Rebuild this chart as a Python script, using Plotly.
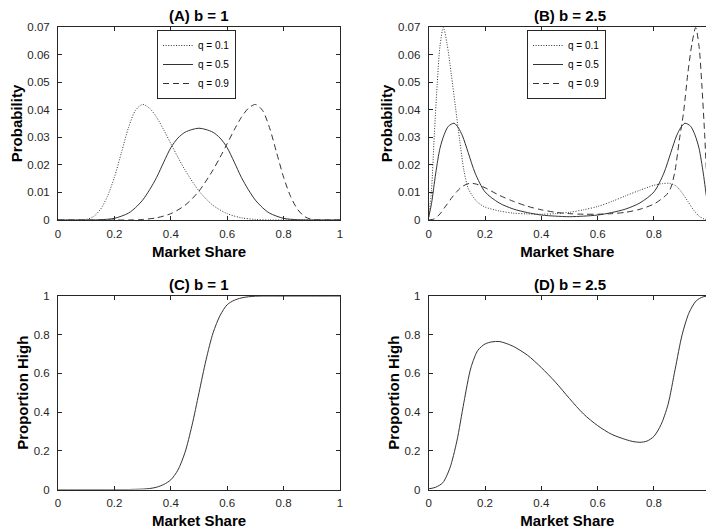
import plotly.graph_objects as go

# ---------------- data ----------------
# Panel A (b = 1): probability vs market share
a_x_q01 = [0, 0.05, 0.1, 0.125, 0.15, 0.175, 0.2, 0.225, 0.25, 0.275, 0.3, 0.325, 0.35,
           0.375, 0.4, 0.425, 0.45, 0.5, 0.55, 0.6, 0.65, 0.7, 0.75, 0.8, 0.9, 1.0]
a_y_q01 = [0, 0, 0.0002, 0.0012, 0.0038, 0.0085, 0.0155, 0.0245, 0.0335, 0.0398, 0.0419,
           0.0405, 0.0372, 0.0327, 0.0277, 0.0228, 0.0182, 0.0105, 0.0053, 0.0023, 0.0008,
           0.0002, 0, 0, 0, 0]

a_x_q05 = [0, 0.1, 0.15, 0.2, 0.25, 0.275, 0.3, 0.325, 0.35, 0.375, 0.4, 0.425, 0.45, 0.475,
           0.5, 0.525, 0.55, 0.575, 0.6, 0.625, 0.65, 0.675, 0.7, 0.725, 0.75, 0.8, 0.85, 0.9, 1.0]
a_y_q05 = [0, 0, 0.0001, 0.0006, 0.0025, 0.0045, 0.0072, 0.011, 0.0155, 0.021, 0.0262, 0.0297,
           0.0318, 0.0328, 0.0333, 0.0328, 0.0318, 0.0297, 0.0262, 0.021, 0.0155, 0.011,
           0.0072, 0.0045, 0.0025, 0.0006, 0.0001, 0, 0]

a_x_q09 = [0, 0.1, 0.2, 0.25, 0.3, 0.35, 0.4, 0.45, 0.5, 0.55, 0.575, 0.6, 0.625, 0.65, 0.675,
           0.7, 0.725, 0.75, 0.775, 0.8, 0.825, 0.85, 0.875, 0.9, 0.95, 1.0]
a_y_q09 = [0, 0, 0, 0, 0.0002, 0.0008, 0.0023, 0.0053, 0.0105, 0.0182, 0.0228, 0.0277,
           0.0327, 0.0372, 0.0405, 0.0419, 0.0398, 0.0335, 0.0245, 0.0155, 0.0085, 0.0038,
           0.0012, 0.0002, 0, 0]

# Panel B (b = 2.5)
b_x_q01 = [0, 0.01, 0.02, 0.03, 0.04, 0.052, 0.065, 0.08, 0.095, 0.11, 0.125, 0.14, 0.155,
           0.175, 0.2, 0.25, 0.3, 0.35, 0.4, 0.45, 0.5, 0.55, 0.6, 0.65, 0.7, 0.75, 0.8,
           0.83, 0.855, 0.88, 0.9, 0.92, 0.94, 0.96, 0.98, 1.0]
b_y_q01 = [0.001, 0.011, 0.031, 0.049, 0.063, 0.0698, 0.064, 0.053, 0.041, 0.029, 0.018,
           0.0115, 0.0088, 0.0063, 0.0047, 0.0033, 0.0025, 0.0022, 0.0021, 0.0023, 0.0028,
           0.0037, 0.0049, 0.0067, 0.0088, 0.0108, 0.0126, 0.0132, 0.0133, 0.0122, 0.0098,
           0.0068, 0.0037, 0.0014, 0.0003, 0.0]

b_x_q05 = [0, 0.01, 0.025, 0.04, 0.055, 0.07, 0.09, 0.105, 0.12, 0.14, 0.165, 0.2, 0.25,
           0.3, 0.35, 0.4, 0.45, 0.5, 0.55, 0.6, 0.65, 0.7, 0.75, 0.8, 0.835, 0.86, 0.88,
           0.895, 0.91, 0.93, 0.945, 0.96, 0.975, 0.99, 1.0]
b_y_q05 = [0.001, 0.006, 0.017, 0.026, 0.031, 0.034, 0.0351, 0.0335, 0.0305, 0.0245, 0.017,
           0.0102, 0.0062, 0.004, 0.0027, 0.0018, 0.0014, 0.0012, 0.0014, 0.0018, 0.0027,
           0.004, 0.0062, 0.0102, 0.017, 0.0245, 0.0305, 0.0335, 0.0351, 0.034, 0.031,
           0.026, 0.017, 0.006, 0.001]

b_x_q09 = [0, 0.02, 0.04, 0.06, 0.08, 0.1, 0.12, 0.145, 0.17, 0.2, 0.25, 0.3, 0.35, 0.4,
           0.45, 0.5, 0.55, 0.6, 0.65, 0.7, 0.75, 0.8, 0.825, 0.845, 0.86, 0.875, 0.89,
           0.905, 0.92, 0.935, 0.948, 0.96, 0.97, 0.98, 0.99, 1.0]
b_y_q09 = [0, 0.0004, 0.0022, 0.005, 0.0078, 0.0103, 0.0122, 0.0133, 0.013, 0.0117, 0.009,
           0.0068, 0.005, 0.0037, 0.0028, 0.0023, 0.0021, 0.0021, 0.0023, 0.0028, 0.0039,
           0.0058, 0.0075, 0.0092, 0.0118, 0.018, 0.029, 0.039, 0.053, 0.064, 0.0698,
           0.063, 0.049, 0.031, 0.011, 0.001]

# Panel C (b = 1): proportion high
c_x = [0, 0.1, 0.2, 0.25, 0.275, 0.3, 0.325, 0.35, 0.375, 0.4, 0.425, 0.45, 0.475, 0.5,
       0.525, 0.55, 0.575, 0.6, 0.625, 0.65, 0.675, 0.7, 0.725, 0.75, 0.8, 0.9, 1.0]
c_y = [0, 0, 0, 0, 0.001, 0.002, 0.005, 0.012, 0.026, 0.05, 0.1, 0.19, 0.33, 0.5, 0.67,
       0.81, 0.9, 0.955, 0.978, 0.99, 0.996, 0.999, 1.0, 1.0, 1.0, 1.0, 1.0]

# Panel D (b = 2.5)
d_x = [0, 0.025, 0.05, 0.075, 0.1, 0.125, 0.15, 0.175, 0.2, 0.225, 0.25, 0.275, 0.3, 0.35,
       0.4, 0.45, 0.5, 0.55, 0.6, 0.65, 0.7, 0.725, 0.75, 0.775, 0.8, 0.825, 0.85, 0.875,
       0.9, 0.925, 0.95, 0.975, 1.0]
d_y = [0.003, 0.012, 0.035, 0.11, 0.25, 0.45, 0.63, 0.72, 0.752, 0.763, 0.765, 0.755, 0.74,
       0.695, 0.63, 0.555, 0.47, 0.39, 0.33, 0.285, 0.258, 0.248, 0.244, 0.25, 0.275, 0.335,
       0.44, 0.62, 0.8, 0.915, 0.975, 0.996, 1.0]

legend_names = ["q = 0.1", "q = 0.5", "q = 0.9"]
titles = ["(A) b = 1", "(B) b = 2.5", "(C) b = 1", "(D) b = 2.5"]
x_label = "Market Share"
y_labels = ["Probability", "Probability", "Proportion High", "Proportion High"]
x_ticks = [0, 0.2, 0.4, 0.6, 0.8, 1.0]
x_tick_text = ["0", "0.2", "0.4", "0.6", "0.8", "1"]
prob_ticks = [0, 0.01, 0.02, 0.03, 0.04, 0.05, 0.06, 0.07]
prob_tick_text = ["0", "0.01", "0.02", "0.03", "0.04", "0.05", "0.06", "0.07"]
prop_ticks = [0, 0.2, 0.4, 0.6, 0.8, 1.0]
prop_tick_text = ["0", "0.2", "0.4", "0.6", "0.8", "1"]

# ---------------- styling ----------------
W, H = 706, 532
FONT = "Liberation Sans, Arial, Helvetica, sans-serif"
INK = "#262626"
LINE = "#333333"
dash_styles = ["1px,1.6px", "solid", "6px,4px"]

fig = go.Figure()

panelA = [(a_x_q01, a_y_q01), (a_x_q05, a_y_q05), (a_x_q09, a_y_q09)]
panelB = [(b_x_q01, b_y_q01), (b_x_q05, b_y_q05), (b_x_q09, b_y_q09)]

for i, (xs, ys) in enumerate(panelA):
    fig.add_trace(go.Scatter(x=xs, y=ys, mode="lines", name=legend_names[i],
                             line=dict(color=LINE, width=1, dash=dash_styles[i], shape="spline", smoothing=0.8),
                             xaxis="x", yaxis="y", legend="legend"))
for i, (xs, ys) in enumerate(panelB):
    fig.add_trace(go.Scatter(x=xs, y=ys, mode="lines", name=legend_names[i],
                             line=dict(color=LINE, width=1, dash=dash_styles[i], shape="spline", smoothing=0.8),
                             xaxis="x2", yaxis="y2", legend="legend2"))
fig.add_trace(go.Scatter(x=c_x, y=c_y, mode="lines", showlegend=False,
                         line=dict(color=LINE, width=1, shape="spline", smoothing=0.8),
                         xaxis="x3", yaxis="y3"))
fig.add_trace(go.Scatter(x=d_x, y=d_y, mode="lines", showlegend=False,
                         line=dict(color=LINE, width=1, shape="spline", smoothing=0.8),
                         xaxis="x4", yaxis="y4"))

# pixel geometry -> paper domains
xl = [58 / W, 340 / W]
xr = [428.7 / W, 1.0]
yt = [(H - 220) / H, (H - 27) / H]
yb = [(H - 489.5) / H, (H - 296) / H]
right_max = (W - 428.7) / 281.6

tickfont = dict(family=FONT, size=11.5, color=INK)
titlefont = dict(family=FONT, size=15, color="black")


def xaxis(domain, anchor, rng):
    return dict(domain=domain, anchor=anchor, range=rng, tickvals=x_ticks, ticktext=x_tick_text,
                ticks="inside", ticklen=4, tickwidth=1, tickcolor=INK,
                showline=True, linecolor=INK, linewidth=1, mirror="ticks",
                showgrid=False, zeroline=False, tickfont=tickfont, ticklabelstandoff=3,
                title=dict(text="<b>" + x_label + "</b>", font=titlefont, standoff=7),
                automargin=False)


def yaxis(domain, anchor, rng, vals, text, label, mirror):
    return dict(domain=domain, anchor=anchor, range=rng, tickvals=vals, ticktext=text,
                ticks="inside", ticklen=4, tickwidth=1, tickcolor=INK,
                showline=True, linecolor=INK, linewidth=1, mirror=mirror,
                showgrid=False, zeroline=False, tickfont=tickfont, ticklabelstandoff=5,
                title=dict(text="<b>" + label + "</b>", font=titlefont, standoff=1),
                automargin=False)


legend_style = dict(xanchor="left", yanchor="top", bgcolor="white", bordercolor=INK,
                    borderwidth=1, font=dict(family=FONT, size=10, color="black"),
                    itemwidth=30, tracegroupgap=0)

fig.update_layout(
    width=W, height=H,
    margin=dict(l=0, r=0, t=0, b=0),
    template="none",
    paper_bgcolor="white", plot_bgcolor="white",
    font=dict(family=FONT, color=INK),
    xaxis=xaxis(xl, "y", [0, 1]),
    yaxis=yaxis(yt, "x", [0, 0.07], prob_ticks, prob_tick_text, y_labels[0], "ticks"),
    xaxis2=xaxis(xr, "y2", [0, right_max]),
    yaxis2=yaxis(yt, "x2", [0, 0.07], prob_ticks, prob_tick_text, y_labels[1], False),
    xaxis3=xaxis(xl, "y3", [0, 1]),
    yaxis3=yaxis(yb, "x3", [0, 1], prop_ticks, prop_tick_text, y_labels[2], "ticks"),
    xaxis4=xaxis(xr, "y4", [0, right_max]),
    yaxis4=yaxis(yb, "x4", [0, 1], prop_ticks, prop_tick_text, y_labels[3], False),
    legend=dict(x=157 / W, y=(H - 30) / H, **legend_style),
    legend2=dict(x=527 / W, y=(H - 30) / H, **legend_style),
)

# panel titles
full_right_w = 281.6 / W
centers = [(xl[0] + xl[1]) / 2, xr[0] + full_right_w / 2, (xl[0] + xl[1]) / 2,
           xr[0] + full_right_w / 2]
tops = [yt[1], yt[1], yb[1], yb[1]]
for t, cx, ty in zip(titles, centers, tops):
    fig.add_annotation(text="<b>" + t + "</b>", x=cx, y=ty, xref="paper", yref="paper",
                       xanchor="center", yanchor="bottom", showarrow=False,
                       font=dict(family=FONT, size=15, color="black"), yshift=1)

fig.write_html("out.html")
